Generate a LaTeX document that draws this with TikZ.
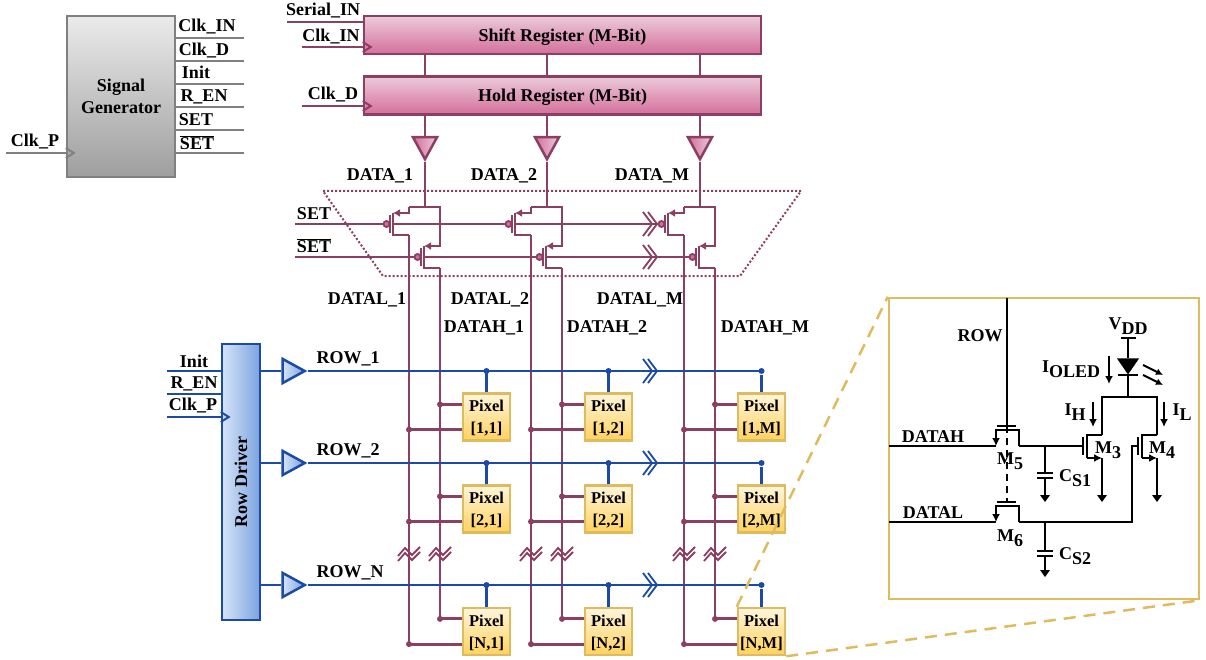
\documentclass[tikz,border=0pt]{standalone}
\usepackage{fontspec}
\setmainfont{Liberation Serif}
\usetikzlibrary{arrows.meta,shapes.geometric}
\definecolor{DVWine}{HTML}{8B3F63}
\definecolor{DVBlue}{HTML}{1B4BA6}
\definecolor{DVGray}{HTML}{808080}
\definecolor{DVGold}{HTML}{DDBB5E}
\definecolor{DVPinkA}{HTML}{EBCBDA}
\definecolor{DVPinkB}{HTML}{D46F9C}
\definecolor{DVSkyA}{HTML}{D6E4F8}
\definecolor{DVSkyB}{HTML}{7BA3E0}
\definecolor{DVSandA}{HTML}{FFF5DC}
\definecolor{DVSandB}{HTML}{FFD25C}
\newcommand{\lowtxt}[1]{\raisebox{-0.28em}{#1}}
\newcommand{\barset}{$\overline{\mbox{SET}}$}

\begin{document}
\begin{tikzpicture}[
        x=1pt,y=-1pt,
        every node/.style={font=\bfseries\fontsize{18}{22}\selectfont,inner sep=0pt,text=black},
        lab/.style={align=center,yshift=-1.5pt},
        gen/.style={rectangle,draw=DVGray,line width=2.5pt,top color=black!8,bottom color=black!38,minimum width=108pt,minimum height=161pt,align=center},
        regbox/.style={rectangle,draw=DVWine,line width=2.5pt,top color=DVPinkA,bottom color=DVPinkB,minimum width=397pt,minimum height=38pt,text depth=0pt},
        driver/.style={rectangle,draw=DVBlue,line width=2.5pt,left color=DVSkyA,right color=DVSkyB,minimum width=38pt,minimum height=276pt},
        pixel/.style={rectangle,draw=DVGold,line width=2.5pt,top color=DVSandA,bottom color=DVSandB,minimum width=47pt,minimum height=47pt,align=center,text depth=0pt,font=\bfseries\fontsize{16.5}{22}\selectfont},
        inset/.style={rectangle,draw=DVGold,line width=2.5pt,minimum width=310pt,minimum height=301pt},
        colbuf/.style={isosceles triangle,isosceles triangle stretches,shape border rotate=270,draw=DVWine,line width=2.5pt,left color=DVPinkB,right color=DVPinkA,minimum width=24pt,minimum height=22pt},
        rowbuf/.style={isosceles triangle,isosceles triangle stretches,draw=DVBlue,line width=2.5pt,left color=DVSkyA,right color=DVSkyB,minimum width=24pt,minimum height=22pt},
        led/.style={isosceles triangle,isosceles triangle stretches,shape border rotate=270,fill=black,minimum width=22pt,minimum height=16pt},
        dot/.style={circle,minimum size=6pt},
        wine/.style={draw=DVWine,line width=2.8pt},
        blue/.style={draw=DVBlue,line width=2.6pt},
        gray/.style={draw=DVGray,line width=2.5pt},
        bk/.style={draw=black,line width=2pt},
        zoomline/.style={draw=DVGold,line width=2.5pt,dash pattern=on 12pt off 8pt},
        clkin/.pic={\draw[pic actions,line width=2pt] (0,-5) -- (8,0) -- (0,5);},
        brkh/.pic={\draw[pic actions,line width=1.8pt] (-8,-12) -- (1,0) -- (-8,12) (-3,-12) -- (6,0) -- (-3,12);},
        brkv/.pic={\draw[pic actions,line width=1.8pt] (-11,3) -- (-4,-5) -- (3,2) -- (11,-6) (-11,8) -- (-4,0) -- (3,7) -- (11,-1);},
        qwine/.pic={
          \draw[wine,-{Latex[length=7pt,width=8pt]}] (16,-17) -- (16,-11) -- (0,-11);
          \draw[wine] (0,-11) -- (0,11) -- (16,11);
          \draw[wine] (-3,-9) -- (-3,9);
          \node[circle,draw=DVWine,line width=1.8pt,fill=DVPinkB,minimum size=6pt] (-b) at (-6.5,0) {};
          \coordinate (-s) at (16,-17);
          \coordinate (-t) at (16,-11);
          \coordinate (-d) at (16,11);
          \coordinate (-g) at (-9.5,0);
          \coordinate (-r) at (0,0);
        },
        qsw/.pic={
          \draw[bk] (-10,0) -- (9,0);
          \draw[bk,-{Latex[length=8pt,width=8pt]}] (12,20) -- (12,4) -- (-11,4) -- (-11,20);
          \coordinate (-s) at (-11,20);
          \coordinate (-d) at (12,20);
        },
        qdrv/.pic={
          \draw[bk] (0,-9) -- (0,9);
          \draw[bk] (19,-11) -- (4,-11) -- (4,12);
          \draw[bk,-{Latex[length=8pt,width=8pt]}] (4,12) -- (19,12);
          \coordinate (-d) at (19,-11);
          \coordinate (-s) at (19,12);
          \coordinate (-g) at (0,0);
        },
        capa/.pic={\draw[bk] (-8,0) -- (8,0) (-8,5) -- (8,5);},
        gnd/.pic={\fill (-5,0) -- (5,0) -- (0,7) -- cycle;}
      ]
      \useasboundingbox (0,0) rectangle (1206,660);

      % select switches frame
      \draw[draw=DVWine,line width=2pt,dash pattern=on 2pt off 2pt] (323,191) -- (801,191) -- (740,276) -- (383,276) -- cycle;

      % signal generator
      \node[gen] (siggen) at (121,96.5) {Signal\\Generator};
      \coordinate (clkpin) at (6,153);
      \coordinate (sgo1) at (244,38);
      \coordinate (sgo2) at (244,61);
      \coordinate (sgo3) at (244,84);
      \coordinate (sgo4) at (244,107);
      \coordinate (sgo5) at (244,130);
      \coordinate (sgo6) at (244,153);
      \draw[gray] (clkpin) -- (clkpin -| siggen.west);
      \draw[gray] (sgo1 -| siggen.east) -- (sgo1);
      \draw[gray] (sgo2 -| siggen.east) -- (sgo2);
      \draw[gray] (sgo3 -| siggen.east) -- (sgo3);
      \draw[gray] (sgo4 -| siggen.east) -- (sgo4);
      \draw[gray] (sgo5 -| siggen.east) -- (sgo5);
      \draw[gray] (sgo6 -| siggen.east) -- (sgo6);
      \pic[draw=DVGray] at (clkpin -| siggen.west) {clkin};
      \node[lab] (lsg1) at (207,25) {Clk\_IN};
      \node[lab] (lsg2) at (204,49) {Clk\_D};
      \node[lab] (lsg3) at (196,71) {Init};
      \node[lab] (lsg4) at (204,95) {R\_EN};
      \node[lab] (lsg5) at (196,118) {SET};
      \node[lab] (lsg6) at (197,141) {\barset};
      \node[lab] (lclkp) at (35,140) {Clk\_P};

      % registers
      \node[regbox] (shift) at (562.5,35) {Shift Register (M-Bit)};
      \node[regbox] (hold) at (562.5,95.5) {Hold Register (M-Bit)};
      \coordinate (serin) at (287,22);
      \coordinate (clkin) at (302,47);
      \coordinate (clkd) at (302,106);
      \draw[wine] (serin) -- (serin -| shift.west);
      \draw[wine] (clkin) -- (clkin -| shift.west);
      \draw[wine] (clkd) -- (clkd -| hold.west);
      \pic[draw=DVWine] at (clkin -| shift.west) {clkin};
      \pic[draw=DVWine] at (clkd -| hold.west) {clkin};
      \node[lab] (lserin) at (323,9) {Serial\_IN};
      \node[lab] (lclkin) at (331,35) {Clk\_IN};
      \node[lab] (lclkd) at (333,93) {Clk\_D};

      % column buffers
      \node[colbuf,anchor=apex] (cbuf1) at (425,162.5) {};
      \node[colbuf,anchor=apex] (cbuf2) at (547,162.5) {};
      \node[colbuf,anchor=apex] (cbufm) at (700,162.5) {};
      \draw[wine] (shift.south -| cbuf1.apex) -- (hold.north -| cbuf1.apex);
      \draw[wine] (shift.south -| cbuf2.apex) -- (hold.north -| cbuf2.apex);
      \draw[wine] (shift.south -| cbufm.apex) -- (hold.north -| cbufm.apex);
      \draw[wine] (hold.south -| cbuf1.apex) -- (cbuf1.lower side);
      \draw[wine] (hold.south -| cbuf2.apex) -- (cbuf2.lower side);
      \draw[wine] (hold.south -| cbufm.apex) -- (cbufm.lower side);
      \node[lab] (ldat1) at (380,174) {DATA\_1};
      \node[lab] (ldat2) at (504,174) {DATA\_2};
      \node[lab] (ldatm) at (652,174) {DATA\_M};

      % switches
      \pic (qa1) at (393,224) {qwine};
      \pic (qb1) at (424,257) {qwine};
      \pic (qa2) at (515,224) {qwine};
      \pic (qb2) at (546,257) {qwine};
      \pic (qam) at (668,224) {qwine};
      \pic (qbm) at (699,257) {qwine};
      \draw[wine] (cbuf1.apex) -- (cbuf1.apex |- qa1-s);
      \draw[wine] (cbuf2.apex) -- (cbuf2.apex |- qa2-s);
      \draw[wine] (cbufm.apex) -- (cbufm.apex |- qam-s);
      \draw[wine] (qa1-s) -- (qb1-t |- qa1-s) -- (qb1-t);
      \draw[wine] (qa2-s) -- (qb2-t |- qa2-s) -- (qb2-t);
      \draw[wine] (qam-s) -- (qbm-t |- qam-s) -- (qbm-t);
      \coordinate (setin) at (295,224);
      \coordinate (nsetin) at (295,257);
      \coordinate (setbrk) at (651,224);
      \coordinate (nsetbrk) at (651,257);
      \draw[wine] (setin) -- (qa1-g);
      \draw[wine] (qa1-r) -- (qa2-g);
      \draw[wine] (qa2-r) -- (setbrk);
      \draw[wine] (setbrk) -- (qam-g);
      \draw[wine] (nsetin) -- (qb1-g);
      \draw[wine] (qb1-r) -- (qb2-g);
      \draw[wine] (qb2-r) -- (nsetbrk);
      \draw[wine] (nsetbrk) -- (qbm-g);
      \pic[draw=DVWine] at (setbrk) {brkh};
      \pic[draw=DVWine] at (nsetbrk) {brkh};
      \node[lab] (lset) at (314,212) {SET};
      \node[lab] (lnset) at (314,244) {\barset};
      \node[lab] (ldl1) at (367,298) {DATAL\_1};
      \node[lab] (ldl2) at (490,298) {DATAL\_2};
      \node[lab] (ldlm) at (640,298) {DATAL\_M};
      \node[lab] (ldh1) at (484,326) {DATAH\_1};
      \node[lab] (ldh2) at (607,326) {DATAH\_2};
      \node[lab] (ldhm) at (765,326) {DATAH\_M};

      % pixels
      \node[pixel] (pix11) at (486.5,417) {Pixel\\{[1,1]}};
      \node[pixel] (pix12) at (608.5,417) {Pixel\\{[1,2]}};
      \node[pixel] (pix1m) at (761.5,417) {Pixel\\{[1,M]}};
      \node[pixel] (pix21) at (486.5,509) {Pixel\\{[2,1]}};
      \node[pixel] (pix22) at (608.5,509) {Pixel\\{[2,2]}};
      \node[pixel] (pix2m) at (761.5,509) {Pixel\\{[2,M]}};
      \node[pixel] (pixn1) at (486.5,631.5) {Pixel\\{[N,1]}};
      \node[pixel] (pixn2) at (608.5,631.5) {Pixel\\{[N,2]}};
      \node[pixel] (pixnm) at (761.5,631.5) {Pixel\\{[N,M]}};

      % data lines
      \draw[wine] (qa1-d) -- (qa1-d |- pixn1.207);
      \draw[wine] (qb1-d) -- (qb1-d |- pixn1.153);
      \draw[wine] (qa2-d) -- (qa2-d |- pixn2.207);
      \draw[wine] (qb2-d) -- (qb2-d |- pixn2.153);
      \draw[wine] (qam-d) -- (qam-d |- pixnm.207);
      \draw[wine] (qbm-d) -- (qbm-d |- pixnm.153);
      \draw[wine] (pix11.153) -- (pix11.153 -| qb1-d) node[dot,fill=DVWine] (dh11) {} (pix11.207) -- (pix11.207 -| qa1-d) node[dot,fill=DVWine] (dl11) {};
      \draw[wine] (pix12.153) -- (pix12.153 -| qb2-d) node[dot,fill=DVWine] (dh12) {} (pix12.207) -- (pix12.207 -| qa2-d) node[dot,fill=DVWine] (dl12) {};
      \draw[wine] (pix1m.153) -- (pix1m.153 -| qbm-d) node[dot,fill=DVWine] (dh1m) {} (pix1m.207) -- (pix1m.207 -| qam-d) node[dot,fill=DVWine] (dl1m) {};
      \draw[wine] (pix21.153) -- (pix21.153 -| qb1-d) node[dot,fill=DVWine] (dh21) {} (pix21.207) -- (pix21.207 -| qa1-d) node[dot,fill=DVWine] (dl21) {};
      \draw[wine] (pix22.153) -- (pix22.153 -| qb2-d) node[dot,fill=DVWine] (dh22) {} (pix22.207) -- (pix22.207 -| qa2-d) node[dot,fill=DVWine] (dl22) {};
      \draw[wine] (pix2m.153) -- (pix2m.153 -| qbm-d) node[dot,fill=DVWine] (dh2m) {} (pix2m.207) -- (pix2m.207 -| qam-d) node[dot,fill=DVWine] (dl2m) {};
      \draw[wine] (pixn1.153) -- (pixn1.153 -| qb1-d) node[dot,fill=DVWine] (dhn1) {} (pixn1.207) -- (pixn1.207 -| qa1-d) node[dot,fill=DVWine] (dln1) {};
      \draw[wine] (pixn2.153) -- (pixn2.153 -| qb2-d) node[dot,fill=DVWine] (dhn2) {} (pixn2.207) -- (pixn2.207 -| qa2-d) node[dot,fill=DVWine] (dln2) {};
      \draw[wine] (pixnm.153) -- (pixnm.153 -| qbm-d) node[dot,fill=DVWine] (dhnm) {} (pixnm.207) -- (pixnm.207 -| qam-d) node[dot,fill=DVWine] (dlnm) {};
      \coordinate (vbrk) at (0,553);
      \pic[draw=DVWine] at (qa1-d |- vbrk) {brkv};
      \pic[draw=DVWine] at (qb1-d |- vbrk) {brkv};
      \pic[draw=DVWine] at (qa2-d |- vbrk) {brkv};
      \pic[draw=DVWine] at (qb2-d |- vbrk) {brkv};
      \pic[draw=DVWine] at (qam-d |- vbrk) {brkv};
      \pic[draw=DVWine] at (qbm-d |- vbrk) {brkv};

      % row driver
      \node[driver] (rowdrv) at (241,482) {\rotatebox{90}{Row Driver}};
      \coordinate (rdinit) at (167,371);
      \coordinate (rdren) at (167,394);
      \coordinate (rdclk) at (167,417);
      \draw[blue] (rdinit) -- (rdinit -| rowdrv.west);
      \draw[blue] (rdren) -- (rdren -| rowdrv.west);
      \draw[blue] (rdclk) -- (rdclk -| rowdrv.west);
      \pic[draw=DVBlue] at (rdclk -| rowdrv.west) {clkin};
      \node[lab] (lrd1) at (194,360) {Init};
      \node[lab] (lrd2) at (194,382) {R\_EN};
      \node[lab] (lrd3) at (193,404) {Clk\_P};
      \node[rowbuf,anchor=apex] (rbuf1) at (308,371) {};
      \node[rowbuf,anchor=apex] (rbuf2) at (308,463) {};
      \node[rowbuf,anchor=apex] (rbufn) at (308,585) {};
      \draw[blue] (rowdrv.east |- rbuf1.apex) -- (rbuf1.lower side);
      \draw[blue] (rowdrv.east |- rbuf2.apex) -- (rbuf2.lower side);
      \draw[blue] (rowdrv.east |- rbufn.apex) -- (rbufn.lower side);
      \draw[blue] (rbuf1.apex) -- (rbuf1.apex -| pix1m.north) node[dot,fill=DVBlue] (rd1m) {};
      \draw[blue] (rbuf2.apex) -- (rbuf2.apex -| pix2m.north) node[dot,fill=DVBlue] (rd2m) {};
      \draw[blue] (rbufn.apex) -- (rbufn.apex -| pixnm.north) node[dot,fill=DVBlue] (rdnm) {};
      \draw[blue] (pix11.north) -- (pix11.north |- rbuf1.apex) node[dot,fill=DVBlue] (rd11) {};
      \draw[blue] (pix12.north) -- (pix12.north |- rbuf1.apex) node[dot,fill=DVBlue] (rd12) {};
      \draw[blue] (pix21.north) -- (pix21.north |- rbuf2.apex) node[dot,fill=DVBlue] (rd21) {};
      \draw[blue] (pix22.north) -- (pix22.north |- rbuf2.apex) node[dot,fill=DVBlue] (rd22) {};
      \draw[blue] (pixn1.north) -- (pixn1.north |- rbufn.apex) node[dot,fill=DVBlue] (rdn1) {};
      \draw[blue] (pixn2.north) -- (pixn2.north |- rbufn.apex) node[dot,fill=DVBlue] (rdn2) {};
      \draw[blue] (pix1m.north) -- (rd1m);
      \draw[blue] (pix2m.north) -- (rd2m);
      \draw[blue] (pixnm.north) -- (rdnm);
      \pic[draw=DVBlue] at (651,371) {brkh};
      \pic[draw=DVBlue] at (651,463) {brkh};
      \pic[draw=DVBlue] at (651,585) {brkh};
      \node[lab] (lrow1) at (348,357) {ROW\_1};
      \node[lab] (lrow2) at (348,449) {ROW\_2};
      \node[lab] (lrown) at (350,571) {ROW\_N};

      % pixel circuit
      \node[inset] (zoombox) at (1044,448.5) {};
      \draw[zoomline] (pixnm.north west) -- (zoombox.north west);
      \draw[zoomline] (pixnm.south east) -- (zoombox.south east);
      \pic (m5) at (1007,426) {qsw};
      \pic (m6) at (1007,502) {qsw};
      \pic (m3) at (1083,446) {qdrv};
      \pic (m4) at (1138,446) {qdrv};
      \coordinate (rowtop) at (1007,298);
      \coordinate (rowg) at (1007,426);
      \coordinate (rowl) at (1007,502);
      \coordinate (datah) at (889,446);
      \coordinate (datal) at (889,522);
      \coordinate (cs1j) at (1045,446);
      \coordinate (cs1t) at (1045,473);
      \coordinate (cs1b) at (1045,478);
      \coordinate (cs1g) at (1045,495);
      \coordinate (cs2j) at (1045,522);
      \coordinate (cs2t) at (1045,551);
      \coordinate (cs2b) at (1045,556);
      \coordinate (cs2g) at (1045,570);
      \coordinate (vdd) at (1128,338);
      \coordinate (rail) at (1128,397);
      \coordinate (m3g) at (1102,495);
      \coordinate (m4g) at (1157,495);
      \coordinate (m4w) at (1132,522);
      \draw[bk] (rowtop) -- (rowg);
      \draw[bk,dash pattern=on 7pt off 5pt] (rowg) -- (rowl);
      \draw[bk] (datah) -- (m5-s);
      \draw[bk] (m5-d) -- (m3-g);
      \draw[bk] (datal) -- (m6-s);
      \draw[bk] (m6-d |- m4w) -- (m6-d);
      \draw[bk] (m6-d |- m4w) -- (m4w) |- (m4-g);
      \draw[bk] (cs1j) -- (cs1t);
      \draw[bk] (cs1b) -- (cs1g);
      \draw[bk] (cs2j) -- (cs2t);
      \draw[bk] (cs2b) -- (cs2g);
      \pic at (cs1t) {capa};
      \pic at (cs2t) {capa};
      \pic at (cs1g) {gnd};
      \pic at (cs2g) {gnd};
      \draw[bk] (m3-s) -- (m3g);
      \draw[bk] (m4-s) -- (m4g);
      \pic at (m3g) {gnd};
      \pic at (m4g) {gnd};
      \draw[bk] (m3-d) |- (rail -| m4-d) -- (m4-d);
      \node[led,anchor=apex] (oled) at (1128,375) {};
      \draw[bk] (1118,375) -- (1138,375);
      \draw[bk] (1121,338) -- (1136,338);
      \draw[bk] (vdd) -- (oled.lower side);
      \draw[bk] (oled.apex) -- (rail);
      \draw[bk,-{Latex[length=7pt,width=7pt]}] (1143,365) -- (1163,375);
      \draw[bk,-{Latex[length=7pt,width=7pt]}] (1143,375) -- (1163,385);
      \draw[bk,-{Latex[length=8pt,width=8pt]}] (1109,356) -- (1109,384);
      \draw[bk,-{Latex[length=8pt,width=8pt]}] (1093,402) -- (1093,427);
      \draw[bk,-{Latex[length=8pt,width=8pt]}] (1164,402) -- (1164,427);
      \node[lab] (lrow) at (980,334) {ROW};
      \node[lab] (ldh) at (933,435) {DATAH};
      \node[lab] (ldl) at (933,511) {DATAL};
      \node[lab] (lvdd) at (1128,325) {V\lowtxt{DD}};
      \node[lab] (liol) at (1071,368) {I\lowtxt{OLED}};
      \node[lab] (lih) at (1075,411) {I\lowtxt{H}};
      \node[lab] (lil) at (1182,411) {I\lowtxt{L}};
      \node[lab] (lm3) at (1108,449) {M\lowtxt{3}};
      \node[lab] (lm4) at (1162,449) {M\lowtxt{4}};
      \node[lab] (lm5) at (1010,460) {M\lowtxt{5}};
      \node[lab] (lm6) at (1010,537) {M\lowtxt{6}};
      \node[lab] (lcs1) at (1075,477) {C\lowtxt{S1}};
      \node[lab] (lcs2) at (1075,555) {C\lowtxt{S2}};
    \end{tikzpicture}
\end{document}
